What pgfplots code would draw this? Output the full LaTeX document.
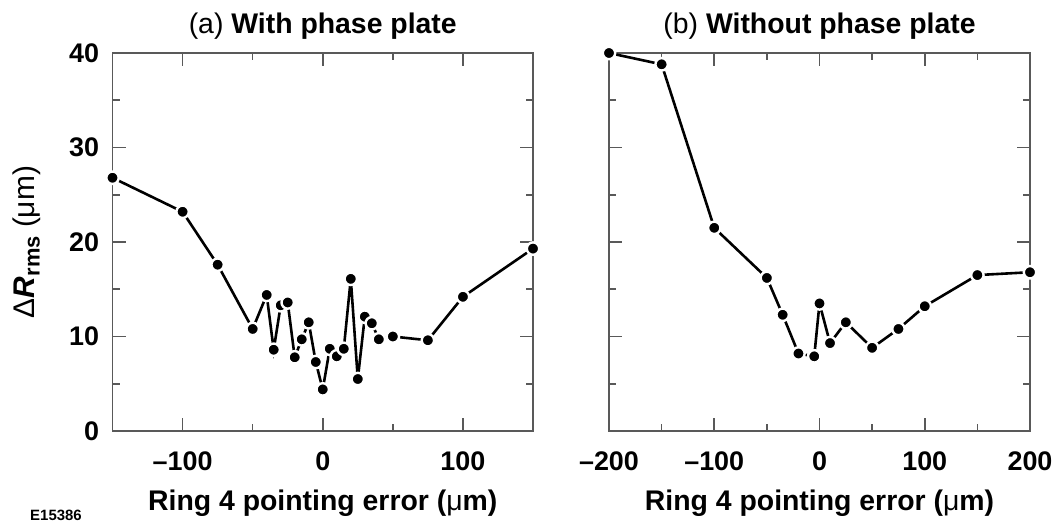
\documentclass[border=0pt]{standalone}
\usepackage{fontspec}
\setmainfont{Liberation Sans}
\usepackage{pgfplots}
\pgfplotsset{compat=1.18}

\pgfplotsset{
  panel/.style={
    scale only axis,
    height=378bp,
    ymin=0, ymax=40,
    ytick={0,10,20,30,40},
    minor ytick={5,15,25,35},
    tick align=inside,
    major tick length=13bp,
    minor tick length=7bp,
    axis line style={line width=1.6bp, black!65},
    every tick/.style={line width=1.6bp, black!65},
    every minor tick/.style={line width=1.6bp, black!65},
    /pgf/number format/assume math mode=true,
    tick label style={font=\fontsize{27}{27}\selectfont\bfseries},
    xticklabel style={yshift=-17bp},
    yticklabel style={xshift=-10bp},
    title style={at={(axis description cs:0.5,1.036)}, anchor=base,
      font=\fontsize{28.5}{28.5}\selectfont},
    xlabel style={at={(axis description cs:0.5,-0.21)}, anchor=base,
      font=\fontsize{28.5}{28.5}\selectfont\bfseries},
    clip=false,
  },
  dots/.style={black, line width=2.6bp, mark=*, mark size=6.2bp,
    mark options={fill=black, draw=white, line width=2.4bp}},
}

\begin{document}
\begin{tikzpicture}
\useasboundingbox (0,0) rectangle (1060bp,525bp);

% (a) with phase plate
\begin{axis}[panel,
  at={(112.5bp,94bp)}, anchor=south west,
  width=420.5bp,
  xmin=-150, xmax=150,
  xtick={-100,0,100},
  xticklabels={\textendash100,0,100},
  minor xtick={-50,50},
  title={(a) \textbf{With phase plate}},
  xlabel={Ring 4 pointing error ({\mdseries μ}m)},
  ylabel={{\mdseries Δ}\textbf{\textit{R}}\raisebox{-5bp}{\fontsize{22}{22}\selectfont\bfseries rms} ({μ}m)},
  ylabel style={at={(axis description cs:-0.185,0.5)}, anchor=base,
    font=\fontsize{30}{30}\selectfont},
]
\addplot[dots] coordinates {
  (-150,26.8) (-100,23.2) (-75,17.6) (-50,10.8) (-40,14.4) (-35,8.6)
  (-30,13.3) (-25,13.6) (-20,7.8) (-15,9.7) (-10,11.5) (-5,7.3)
  (0,4.4) (5,8.7) (10,7.9) (15,8.7) (20,16.1) (25,5.5)
  (30,12.1) (35,11.4) (40,9.7) (50,10.0) (75,9.6) (100,14.2) (150,19.3)
};
\end{axis}

% (b) without phase plate
\begin{axis}[panel,
  at={(609bp,94bp)}, anchor=south west,
  width=421bp,
  xmin=-200, xmax=200,
  xtick={-200,-100,0,100,200},
  xticklabels={\textendash200,\textendash100,0,100,200},
  minor xtick={-150,-50,50,150},
  yticklabels={},
  title={(b) \textbf{Without phase plate}},
  xlabel={Ring 4 pointing error ({\mdseries μ}m)},
]
\addplot[dots] coordinates {
  (-200,40.0) (-150,38.8) (-100,21.5) (-50,16.2) (-35,12.3) (-20,8.2)
  (-5,7.9) (0,13.5) (10,9.3) (25,11.5) (50,8.8) (75,10.8)
  (100,13.2) (150,16.5) (200,16.8)
};
\end{axis}

\node[anchor=base, font=\fontsize{15}{15}\selectfont\bfseries] at (56bp,5bp) {E15386};
\end{tikzpicture}
\end{document}
